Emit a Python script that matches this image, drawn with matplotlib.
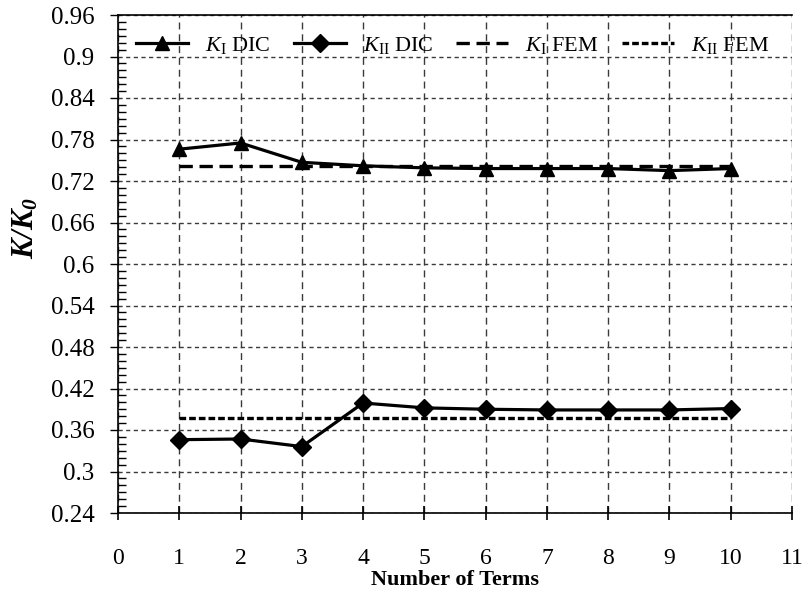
import matplotlib
matplotlib.use("Agg")
import matplotlib.pyplot as plt
from matplotlib.ticker import MultipleLocator, FixedLocator

plt.rcParams['font.family'] = ['Liberation Serif', 'DejaVu Serif']
plt.rcParams['mathtext.fontset'] = 'custom'
plt.rcParams['mathtext.rm'] = 'Liberation Serif'
plt.rcParams['mathtext.it'] = 'Liberation Serif:italic'
plt.rcParams['mathtext.bf'] = 'Liberation Serif:bold'
plt.rcParams['mathtext.bfit'] = 'Liberation Serif:bold:italic'

terms = [1, 2, 3, 4, 5, 6, 7, 8, 9, 10]
k1_dic = [0.766, 0.775, 0.747, 0.742, 0.739, 0.738, 0.738, 0.738, 0.735, 0.738]
k2_dic = [0.346, 0.347, 0.336, 0.399, 0.392, 0.390, 0.389, 0.389, 0.389, 0.391]
k1_fem = [0.741] * 10
k2_fem = [0.378] * 10
y_ticks = [0.24, 0.3, 0.36, 0.42, 0.48, 0.54, 0.6, 0.66, 0.72, 0.78, 0.84, 0.9, 0.96]
y_tick_labels = ['0.24', '0.3', '0.36', '0.42', '0.48', '0.54', '0.6', '0.66', '0.72', '0.78', '0.84', '0.9', '0.96']
x_ticks = list(range(0, 12))

fig = plt.figure(figsize=(8.08, 5.96), dpi=100)
ax = fig.add_axes([118/808, 1 - 513/596, (792 - 118)/808, (513 - 15)/596])

ax.plot(terms, k1_dic, color='black', lw=2.3, marker='^', ms=10.5, label=r'$K_{\rm I}$ DIC', zorder=5)
ax.plot(terms, k2_dic, color='black', lw=2.3, marker='D', ms=9, label=r'$K_{\rm II}$ DIC', zorder=5)
ax.plot(terms, k1_fem, color='black', lw=2.4, ls=(0, (4, 2)), label=r'$K_{\rm I}$ FEM', zorder=4)
ax.plot(terms, k2_fem, color='black', lw=2.4, ls=(0, (2, 0.9)), label=r'$K_{\rm II}$ FEM', zorder=4)

ax.set_xlim(0, 11)
ax.set_ylim(0.24, 0.96)
ax.xaxis.set_major_locator(FixedLocator(x_ticks))
ax.set_yticks(y_ticks)
ax.set_yticklabels(y_tick_labels)
ax.yaxis.set_minor_locator(MultipleLocator(0.01))

ax.grid(True, axis='x', which='major', color='#3a3a3a', ls=(0, (5, 3.5)), lw=1.0)
ax.grid(True, axis='y', which='major', color='#3a3a3a', ls=(0, (3, 2.5)), lw=1.0)

ax.spines['right'].set_visible(False)
for s in ['left', 'bottom', 'top']:
    ax.spines[s].set_linewidth(1.2)

ax.tick_params(axis='y', which='major', direction='out', length=6, width=1.0, labelsize=18, pad=11)
ax.tick_params(axis='y', which='minor', direction='in', length=6, width=1.0)
ax.tick_params(axis='x', which='major', direction='inout', length=10, width=1.2, labelsize=17, pad=20)

ax.set_xlabel('Number of Terms', fontsize=16, fontweight='bold', labelpad=1)
ax.set_ylabel(r'$\mathbfit{K/K_0}$', fontsize=22)
ax.yaxis.set_label_coords(-0.115, (513 - 228)/498)

leg = ax.legend(loc='center left', ncol=4, frameon=False, fontsize=16, handlelength=2.35,
                columnspacing=1.05, handletextpad=0.75, borderpad=0, borderaxespad=0,
                bbox_to_anchor=((136 - 118)/674, (513 - 45)/498))

fig.savefig('out.png', dpi=100)
